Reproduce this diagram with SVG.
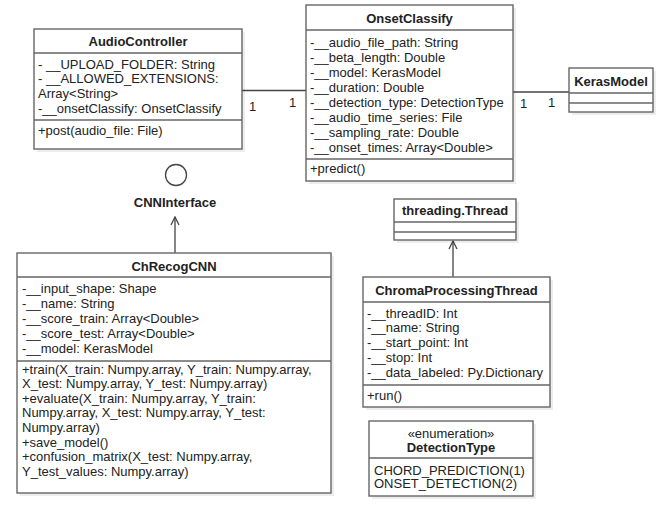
<svg xmlns="http://www.w3.org/2000/svg" width="671" height="511" viewBox="0 0 671 511">
<style>
.box{fill:#fff;stroke:#666;stroke-width:1.4}
.sh{fill:#000;opacity:0.07}
.sep{stroke:#666;stroke-width:1.4}
text{font-family:"Liberation Sans",Arial,sans-serif;font-size:13px;fill:#222}
.t{font-weight:bold;text-anchor:middle}
.c{text-anchor:middle}
.ln{stroke:#444;stroke-width:1.3;fill:none}
</style>
<defs>
<marker id="open" viewBox="0 0 10 10" refX="9" refY="5" markerWidth="10" markerHeight="10" markerUnits="userSpaceOnUse" orient="auto">
<path d="M1,1 L9,5 L1,9" fill="none" stroke="#444" stroke-width="1.3"/>
</marker>
</defs>
<rect width="671" height="511" fill="#fff"/>
<g id="connectors">
<line class="ln" x1="242" y1="90.5" x2="306" y2="90.5"/>
<text x="249" y="111">1</text>
<text x="289" y="107">1</text>
<line class="ln" x1="513" y1="92" x2="569" y2="92"/>
<text x="520" y="108">1</text>
<text x="548" y="107">1</text>
<line class="ln" x1="175" y1="253" x2="175" y2="217" marker-end="url(#open)"/>
<line class="ln" x1="453" y1="277" x2="453" y2="241" marker-end="url(#open)"/>
</g>
<g id="AudioController">
<rect class="sh" x="37" y="32" width="208" height="120"/>
<rect class="box" x="34" y="29" width="208" height="120"/>
<line class="sep" x1="34" y1="53" x2="242" y2="53"/>
<line class="sep" x1="34" y1="120" x2="242" y2="120"/>
<text class="t" x="138" y="46">AudioController</text>
<text x="38" y="68.5">- __UPLOAD_FOLDER: String</text>
<text x="38" y="83">- __ALLOWED_EXTENSIONS:</text>
<text x="38" y="97.5">Array&lt;String&gt;</text>
<text x="38" y="112.5">-__onsetClassify: OnsetClassify</text>
<text x="38" y="134.5">+post(audio_file: File)</text>
</g>
<g id="OnsetClassify">
<rect class="sh" x="309" y="8" width="207" height="176"/>
<rect class="box" x="306" y="5" width="207" height="176"/>
<line class="sep" x1="306" y1="30" x2="513" y2="30"/>
<line class="sep" x1="306" y1="159" x2="513" y2="159"/>
<text class="t" x="409.5" y="22.5">OnsetClassify</text>
<text x="310" y="46.5">-__audio_file_path: String</text>
<text x="310" y="61.5">-__beta_length: Double</text>
<text x="310" y="76.5">-__model: KerasModel</text>
<text x="310" y="91.5">-__duration: Double</text>
<text x="310" y="106.5">-__detection_type: DetectionType</text>
<text x="310" y="121.5">-__audio_time_series: File</text>
<text x="310" y="136.5">-__sampling_rate: Double</text>
<text x="310" y="151.5">-__onset_times: Array&lt;Double&gt;</text>
<text x="310" y="172.5">+predict()</text>
</g>
<g id="KerasModel">
<rect class="sh" x="572" y="71" width="84" height="44"/>
<rect class="box" x="569" y="68" width="84" height="44"/>
<line class="sep" x1="569" y1="93" x2="653" y2="93"/>
<line class="sep" x1="569" y1="103" x2="653" y2="103"/>
<text class="t" x="611" y="85.5">KerasModel</text>
</g>
<g id="CNNInterface">
<circle cx="176" cy="175" r="10.5" fill="#fff" stroke="#444" stroke-width="1.3"/>
<text class="t" x="175" y="206.5">CNNInterface</text>
</g>
<g id="ChRecogCNN">
<rect class="sh" x="20" y="256" width="314" height="240"/>
<rect class="box" x="17" y="253" width="314" height="240"/>
<line class="sep" x1="17" y1="277" x2="331" y2="277"/>
<line class="sep" x1="17" y1="361" x2="331" y2="361"/>
<text class="t" x="174" y="270.5">ChRecogCNN</text>
<text x="22" y="292.5">-__input_shape: Shape</text>
<text x="22" y="307.5">-__name: String</text>
<text x="22" y="322.5">-__score_train: Array&lt;Double&gt;</text>
<text x="22" y="337.5">-__score_test: Array&lt;Double&gt;</text>
<text x="22" y="352.5">-__model: KerasModel</text>
<text x="22" y="373.5">+train(X_train: Numpy.array, Y_train: Numpy.array,</text>
<text x="22" y="388.1">X_test: Numpy.array, Y_test: Numpy.array)</text>
<text x="22" y="402.7">+evaluate(X_train: Numpy.array, Y_train:</text>
<text x="22" y="417.3">Numpy.array, X_test: Numpy.array, Y_test:</text>
<text x="22" y="431.9">Numpy.array)</text>
<text x="22" y="446.5">+save_model()</text>
<text x="22" y="461.1">+confusion_matrix(X_test: Numpy.array,</text>
<text x="22" y="475.7">Y_test_values: Numpy.array)</text>
</g>
<g id="threadingThread">
<rect class="sh" x="397" y="202" width="122" height="41"/>
<rect class="box" x="394" y="199" width="122" height="41"/>
<line class="sep" x1="394" y1="222" x2="516" y2="222"/>
<line class="sep" x1="394" y1="232" x2="516" y2="232"/>
<text class="t" x="455" y="214.5">threading.Thread</text>
</g>
<g id="ChromaProcessingThread">
<rect class="sh" x="366" y="280" width="187" height="130"/>
<rect class="box" x="363" y="277" width="187" height="130"/>
<line class="sep" x1="363" y1="302" x2="550" y2="302"/>
<line class="sep" x1="363" y1="385" x2="550" y2="385"/>
<text class="t" x="456.5" y="294.5">ChromaProcessingThread</text>
<text x="367" y="317.5">-__threadID: Int</text>
<text x="367" y="332.25">-__name: String</text>
<text x="367" y="347">-__start_point: Int</text>
<text x="367" y="361.75">-__stop: Int</text>
<text x="367" y="376.5">-__data_labeled: Py.Dictionary</text>
<text x="367" y="399.5">+run()</text>
</g>
<g id="DetectionType">
<rect class="sh" x="372" y="424" width="164" height="75"/>
<rect class="box" x="369" y="421" width="164" height="75"/>
<line class="sep" x1="369" y1="458" x2="533" y2="458"/>
<text class="c" x="451" y="437.5">«enumeration»</text>
<text class="t" x="451" y="451.5">DetectionType</text>
<text x="374" y="474.5">CHORD_PREDICTION(1)</text>
<text x="374" y="488">ONSET_DETECTION(2)</text>
</g>
</svg>
